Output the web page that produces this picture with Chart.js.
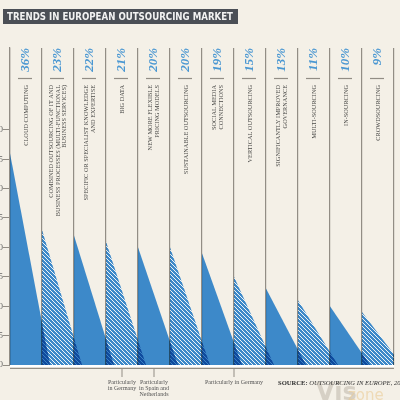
<!DOCTYPE html>
<html>
<head>
<meta charset="utf-8">
<script src="https://cdn.jsdelivr.net/npm/chart.js@4"></script>
<style>
  html, body { margin: 0; padding: 0; background: #f4f0e7; overflow: hidden; }
  #wrap { position: relative; width: 400px; height: 400px; overflow: hidden; }
  #chart { position: absolute; left: -12px; top: 0; }
</style>
</head>
<body>
<div id="wrap"><canvas id="chart" width="412" height="400"></canvas></div>
<script>
const title = 'TRENDS IN EUROPEAN OUTSOURCING MARKET';

const categories = [
  ['CLOUD COMPUTING'],
  ['COMBINED OUTSOURCING OF IT AND', 'BUSINESS PROCESSES (MULTI-FUNCTIONAL', 'BUSINESS SERVICES)'],
  ['SPECIFIC OR SPECIALIST KNOWLEDGE', 'AND EXPERTISE'],
  ['BIG DATA'],
  ['NEW MORE FLEXIBLE', 'PRICING MODELS'],
  ['SUSTAINABLE OUTSOURCING'],
  ['SOCIAL MEDIA', 'CONNECTIONS'],
  ['VERTICAL OUTSOURCING'],
  ['SIGNIFICANTLY IMPROVED', 'GOVERNANCE'],
  ['MULTI-SOURCING'],
  ['IN-SOURCING'],
  ['CROWDSOURCING']
];
const shares = [36, 23, 22, 21, 20, 20, 19, 15, 13, 11, 10, 9];
const yTickValues = [0, 5, 10, 15, 20, 25, 30, 35, 40];

const noteAt = [3.5, 4.5, 7];
const noteText = [
  ['Particularly', 'in Germany'],
  ['Particularly', 'in Spain and', 'Netherlands'],
  ['Particularly in Germany']
];
const source = ['SOURCE:', ' OUTSOURCING IN EUROPE, 2013, EY'];

const BLUE = '#3d89c9';
const GRID = '#928d85';
const OX = 12; // canvas is shifted left so axis labels are cut like the original

function hatch() {
  const c = document.createElement('canvas');
  c.width = 4; c.height = 4;
  const g = c.getContext('2d');
  g.fillStyle = BLUE;
  g.fillRect(0, 0, 4, 4);
  g.strokeStyle = '#eef3f7';
  g.lineWidth = 1;
  g.beginPath();
  g.moveTo(-1, -1); g.lineTo(5, 5);
  g.moveTo(-1, 3); g.lineTo(1, 5);
  g.moveTo(3, -1); g.lineTo(5, 1);
  g.stroke();
  return g.createPattern(c, 'repeat');
}
const stripes = hatch();

const datasets = shares.map((v, i) => ({
  data: [{ x: i, y: v }, { x: i + 1.25, y: 0 }],
  fill: 'origin',
  backgroundColor: i % 2 === 0 ? BLUE : stripes,
  borderWidth: 0,
  pointRadius: 0
}));

const overlap = {
  id: 'overlap',
  beforeDatasetsDraw(chart) { chart.ctx.globalCompositeOperation = 'multiply'; },
  afterDatasetsDraw(chart) { chart.ctx.globalCompositeOperation = 'source-over'; }
};

const texts = {
  id: 'texts',
  afterDraw(chart) {
    const ctx = chart.ctx;
    const xs = chart.scales.x;
    const area = chart.chartArea;
    ctx.save();

    // title bar
    ctx.fillStyle = '#4b4f56';
    ctx.fillRect(OX + 3, 9, 235, 15);
    ctx.font = 'bold 11px "DejaVu Sans Condensed", "DejaVu Sans", sans-serif';
    const tw = ctx.measureText(title).width;
    ctx.save();
    ctx.translate(OX + 7, 17);
    ctx.scale(226 / tw, 1);
    ctx.fillStyle = '#f2f2f2';
    ctx.textAlign = 'left';
    ctx.textBaseline = 'middle';
    ctx.fillText(title, 0, 0.5);
    ctx.restore();

    // column headings
    shares.forEach((v, i) => {
      const left = xs.getPixelForValue(i);
      ctx.save();
      ctx.translate(left + 16, 48);
      ctx.rotate(-Math.PI / 2);
      ctx.font = 'bold italic 13px "Liberation Serif", "DejaVu Serif", serif';
      ctx.fillStyle = '#4a97d2';
      ctx.textAlign = 'right';
      ctx.textBaseline = 'middle';
      ctx.fillText(v + '%', 0, 0);
      ctx.restore();

      ctx.strokeStyle = GRID;
      ctx.lineWidth = 1.2;
      ctx.beginPath();
      ctx.moveTo(left + 8, 78.5);
      ctx.lineTo(left + 22, 78.5);
      ctx.stroke();

      const lines = categories[i];
      ctx.save();
      ctx.translate(left + 16, 85);
      ctx.rotate(-Math.PI / 2);
      ctx.font = '6.3px "Liberation Serif", "DejaVu Serif", serif';
      ctx.fillStyle = '#4a4a48';
      ctx.textAlign = 'right';
      ctx.textBaseline = 'middle';
      lines.forEach((t, j) => ctx.fillText(t, 0, (j - (lines.length - 1) / 2) * 6.8));
      ctx.restore();
    });

    // base strip
    const x0 = area.left, x1 = xs.getPixelForValue(12);
    ctx.fillStyle = '#ffffff';
    ctx.fillRect(x0, area.bottom, x1 - x0, 2.5);
    ctx.strokeStyle = GRID;
    ctx.lineWidth = 1.3;
    ctx.beginPath();
    ctx.moveTo(x0, area.bottom + 3.3);
    ctx.lineTo(x1, area.bottom + 3.3);
    ctx.stroke();

    // notes under columns
    ctx.font = '6px "Liberation Serif", "DejaVu Serif", serif';
    ctx.fillStyle = '#555';
    ctx.textAlign = 'center';
    ctx.textBaseline = 'middle';
    noteAt.forEach((at, k) => {
      const x = xs.getPixelForValue(at);
      ctx.lineWidth = 1;
      ctx.beginPath();
      ctx.moveTo(x, area.bottom + 4);
      ctx.lineTo(x, area.bottom + 12);
      ctx.stroke();
      noteText[k].forEach((t, j) => ctx.fillText(t, x, area.bottom + 17.5 + j * 6));
    });

    // watermark
    ctx.globalAlpha = 0.55;
    ctx.textAlign = 'left';
    ctx.textBaseline = 'alphabetic';
    ctx.font = 'bold 24px "DejaVu Sans", sans-serif';
    ctx.fillStyle = '#bdb6aa';
    ctx.fillText('Vis', OX + 316, 400);
    ctx.font = '15px "DejaVu Sans", sans-serif';
    ctx.fillStyle = '#e9c88e';
    ctx.fillText('zone', OX + 348, 400);
    ctx.globalAlpha = 1;

    // source
    ctx.fillStyle = '#2f2f2f';
    ctx.textBaseline = 'middle';
    ctx.font = 'bold 6.6px "Liberation Serif", "DejaVu Serif", serif';
    ctx.fillText(source[0], OX + 278, 383);
    const sw = ctx.measureText(source[0]).width;
    ctx.font = 'italic 6.6px "Liberation Serif", "DejaVu Serif", serif';
    ctx.fillText(source[1], OX + 278 + sw, 383);

    ctx.restore();
  }
};

new Chart(document.getElementById('chart').getContext('2d'), {
  type: 'line',
  data: { datasets },
  options: {
    responsive: false,
    animation: false,
    devicePixelRatio: 1,
    layout: { padding: { top: 48, bottom: 35, left: 0, right: 6 } },
    plugins: { legend: { display: false }, tooltip: { enabled: false } },
    scales: {
      x: {
        type: 'linear',
        min: 0,
        max: 12,
        ticks: { display: false, stepSize: 1 },
        grid: { color: GRID, lineWidth: 1.2, drawTicks: false },
        border: { display: false },
        afterFit: s => { s.height = 0; }
      },
      y: {
        min: 0,
        max: 53.9,
        afterBuildTicks: s => { s.ticks = yTickValues.map(v => ({ value: v })); },
        afterFit: s => { s.width = 22; },
        ticks: { padding: 0, color: '#666', font: { family: 'Liberation Serif', size: 9 } },
        grid: { drawOnChartArea: false, color: GRID, tickLength: 7 },
        border: { color: GRID, width: 1.2 }
      }
    }
  },
  plugins: [overlap, texts]
});
</script>
</body>
</html>
